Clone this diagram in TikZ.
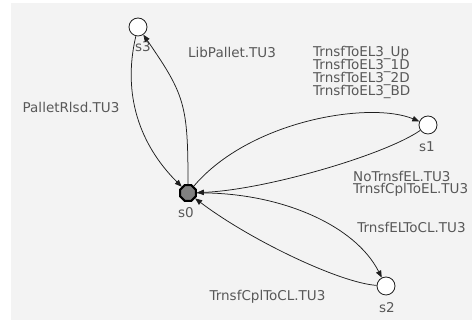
\documentclass[tikz,border=0pt]{standalone}
\usepackage{fontspec}
\setmainfont{DejaVu Sans}
\usepackage{tikz}
\usetikzlibrary{arrows.meta,shapes.geometric}

\definecolor{bgcol}{RGB}{243,243,243}
\definecolor{txtcol}{RGB}{88,88,88}
\definecolor{linecol}{RGB}{30,30,30}

\newcommand{\lblfont}{\fontsize{13.5}{12}\selectfont\setlength{\lineskiplimit}{-20pt}}

\begin{document}
\begin{tikzpicture}[x=1pt,y=1pt,
    stnode/.style={circle,draw=linecol,fill=white,line width=0.8pt,
        minimum size=18pt,inner sep=0pt},
    initnode/.style={regular polygon,regular polygon sides=8,draw=black,
        fill=gray,line width=2pt,minimum size=17pt,inner sep=0pt},
    txt/.style={text=txtcol,inner sep=0pt,font=\lblfont},
    trans/.style={draw=linecol,line width=0.75pt,
        -{Triangle[length=7pt,width=5.5pt]}}]

% Background
\fill[bgcol] (11,0) rectangle (472,317);
\useasboundingbox (0,0) rectangle (472,320);

% States
\node[initnode] (s0) at (188,127) {};
\node[stnode] (s1) at (428,195) {};
\node[stnode] (s2) at (386,34) {};
\node[stnode] (s3) at (138,293) {};

\node[txt] (l0) at (186,107) {s0};
\node[txt] (l1) at (427,173) {s1};
\node[txt] (l2) at (387,12) {s2};
\node[txt] (l3) at (143,273) {s3};

% Transitions
\draw[trans] (s0) .. controls (188,215) and (185,225) .. (s3);
\draw[trans] (s3) .. controls (122,225) and (140,175) .. (s0);
\draw[trans] (s0) .. controls (250,200) and (370,219) .. (s1);
\draw[trans] (s1) .. controls (385,165) and (265,130) .. (s0);
\draw[trans] (s0) .. controls (280,128) and (355,95) .. (s2);
\draw[trans] (s2) .. controls (340,37) and (250,80) .. (s0);

% Transition labels
\node[txt] (tlib) at (232,268) {LibPallet.TU3};
\node[txt] (trel) at (71,213) {PalletRlsd.TU3};
\node[txt,align=left,anchor=west] (tel) at (313,248)
    {TrnsfToEL3\_Up\\[1pt]TrnsfToEL3\_1D\\[1pt]TrnsfToEL3\_2D\\[1pt]TrnsfToEL3\_BD};
\node[txt,align=left,anchor=west] (tno) at (353,136)
    {NoTrnsfEL.TU3\\TrnsfCplToEL.TU3};
\node[txt] (tcl) at (411.5,93) {TrnsfELToCL.TU3};
\node[txt] (tcpl) at (267.5,23) {TrnsfCplToCL.TU3};

\end{tikzpicture}
\end{document}
